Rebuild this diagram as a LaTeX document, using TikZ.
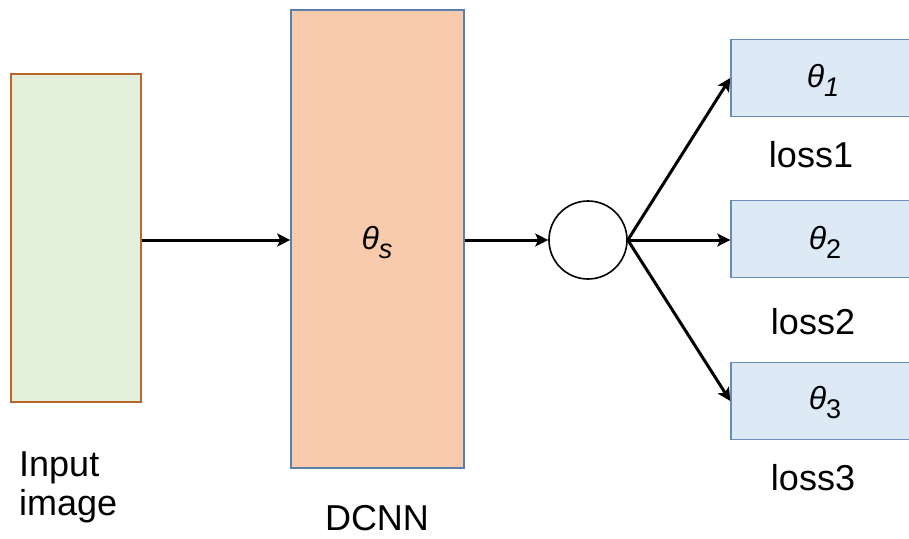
\documentclass[tikz,border=0pt]{standalone}
\usepackage{fontspec}
\setmainfont{Liberation Sans}
\usetikzlibrary{arrows.meta}
\definecolor{ingreen}{HTML}{E2EFDA}
\definecolor{inborder}{HTML}{B9652E}
\definecolor{dcfill}{HTML}{F8CBAD}
\definecolor{dcborder}{HTML}{5A7FAD}
\definecolor{outfill}{HTML}{DDEAF6}
\definecolor{outborder}{HTML}{6A8DB8}
\newcommand{\thsub}[1]{{\fontsize{32}{32}\selectfont\itshape θ\raisebox{-9pt}{\fontsize{27}{27}\selectfont #1}}}
\tikzset{
  lbl/.style={font=\fontsize{36}{36}\selectfont, inner sep=0pt},
  inbox/.style={draw=inborder, fill=ingreen, line width=1.6pt, minimum width=130pt, minimum height=328pt, inner sep=0pt},
  dcbox/.style={draw=dcborder, fill=dcfill, line width=1.6pt, minimum width=173pt, minimum height=458pt, inner sep=0pt},
  outbox/.style={draw=outborder, fill=outfill, line width=1.4pt, minimum width=220pt, minimum height=77pt, inner sep=0pt},
  junc/.style={circle, draw=black, line width=1.6pt, minimum size=78pt, inner sep=0pt},
  arr/.style={-{Stealth[length=13pt,width=13pt,inset=3pt]}, line width=3pt, black}
}
\begin{document}
\begin{tikzpicture}[x=1pt,y=-1pt]
\useasboundingbox (0,0) rectangle (909,538);
\clip (0,0) rectangle (909,538);
\node[inbox] (input) at (76,238) {};
\node[dcbox] (dcnn) at (377.5,239) {};
\node[junc] (circ) at (588,240) {};
\node[outbox] (o1) at (841,78) {};
\node[outbox] (o2) at (841,239) {};
\node[outbox] (o3) at (841,401) {};
\node[inner sep=0pt] (ths) at (377,243) {\thsub{s}};
\node[inner sep=0pt] (th1) at (823,80) {\thsub{1}};
\node[inner sep=0pt] (th2) at (825,242) {\thsub{\upshape 2}};
\node[inner sep=0pt] (th3) at (825,403) {\thsub{\upshape 3}};
\node[lbl] (l1) at (811,155) {loss1};
\node[lbl] (l2) at (813,322) {loss2};
\node[lbl] (l3) at (813,478) {loss3};
\node[lbl, align=left, anchor=north west, font=\fontsize{36}{39}\selectfont] (inl) at (19,452) {Input\\image};
\node[lbl] (dcl) at (377,518) {DCNN};
\draw[arr] (input.east |- 0,240) -- (dcnn.west |- 0,240);
\draw[arr] (dcnn.east |- 0,240) -- (circ.west);
\draw[arr] (circ.east) -- (o1.west);
\draw[arr] (circ.east) -- (o2.west |- circ.east);
\draw[arr] (circ.east) -- (o3.west);
\end{tikzpicture}
\end{document}
